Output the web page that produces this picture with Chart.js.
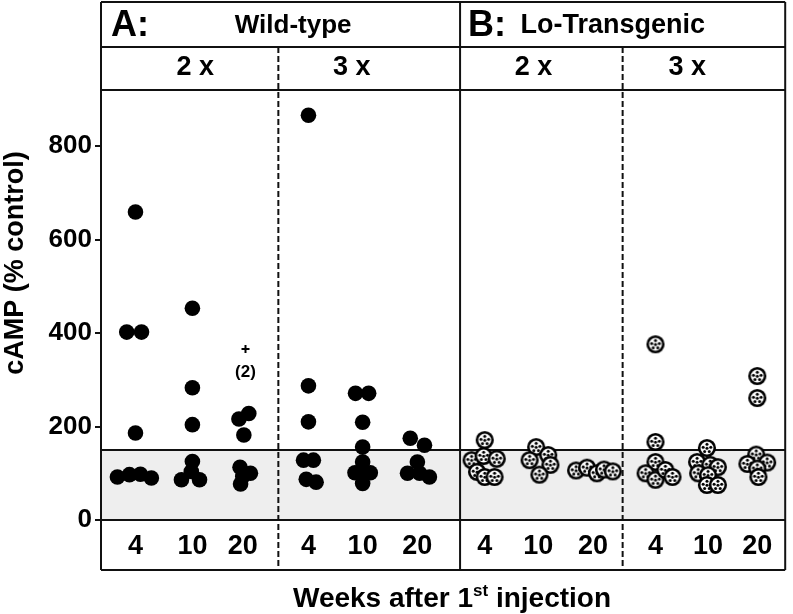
<!DOCTYPE html>
<html>
<head>
<meta charset="utf-8">
<script src="https://cdn.jsdelivr.net/npm/chart.js@4.4.1/dist/chart.umd.min.js"></script>
<style>
  html, body { margin: 0; padding: 0; background: #fff; }
</style>
</head>
<body>
<canvas id="chart" width="793" height="614"></canvas>
<script>
// 12 組的 x 位置（x 軸單位）與週數標籤
const groupX = [0.63, 1.67, 2.59, 3.79, 4.78, 5.78, 7.01, 7.99, 8.99, 10.13, 11.09, 11.99];
const weekLabels = ['4', '10', '20', '4', '10', '20', '4', '10', '20', '4', '10', '20'];
const yTicks = [0, 200, 400, 600, 800];
const bandTop = 150;

// Wild-type：每組的 cAMP 值與水平錯位
const wtValues = [
  [659, 402, 402, 186, 92, 97, 98, 90],
  [453, 283, 204, 125, 86, 86, 104],
  [228, 216, 182, 113, 100, 93, 77],
  [866, 287, 210, 128, 128, 87, 81],
  [271, 271, 209, 156, 124, 101, 101, 96, 78],
  [175, 160, 124, 100, 100, 92],
];
const wtJitter = [
  [0, -0.16, 0.11, 0, -0.33, -0.11, 0.09, 0.29],
  [0, 0, 0, 0, -0.2, 0.13, -0.02],
  [0.11, -0.07, 0.02, -0.05, 0.14, 0, -0.04],
  [0, 0, 0, -0.09, 0.09, -0.04, 0.14],
  [-0.13, 0.11, 0, 0, 0, -0.14, 0.14, 0, 0],
  [-0.13, 0.13, 0, -0.18, 0.04, 0.22],
];

// Lo-Transgenic（組 6..11）
const tgValues = [
  [171, 128, 137, 131, 103, 92, 92],
  [156, 128, 139, 118, 97],
  [106, 112, 100, 108, 104],
  [376, 167, 124, 100, 86, 107, 92],
  [154, 124, 118, 113, 100, 96, 75, 75],
  [308, 261, 140, 120, 123, 110, 92],
];
const tgJitter = [
  [0, -0.24, -0.02, 0.22, -0.14, 0, 0.18],
  [-0.04, -0.16, 0.18, 0.22, 0.02],
  [-0.31, -0.11, 0.07, 0.2, 0.36],
  [0, 0, 0, -0.18, 0, 0.18, 0.31],
  [-0.02, -0.2, 0.04, 0.18, -0.18, 0, -0.02, 0.18],
  [0, 0, -0.02, -0.18, 0.18, 0, 0.02],
];

// 超出範圍標記 "+ (2)"
const outlierGroup = 2;
const outlierJitter = 0.05;
const outlierValue = 366;
const outlierLabel = '(2)';

// 表頭文字與分隔線
const headerRow1 = [
  { text: 'A:', x: 0.53, size: 36 },
  { text: 'Wild-type', x: 3.51, size: 26 },
  { text: 'B:', x: 7.05, size: 36 },
  { text: 'Lo-Transgenic', x: 9.35, size: 27 },
];
const headerRow2 = [
  { text: '2 x', x: 1.72 },
  { text: '3 x', x: 4.58 },
  { text: '2 x', x: 7.9 },
  { text: '3 x', x: 10.71 },
];
const dashedDividers = [3.24, 9.53];
const solidDividers = [6.56];

const FONT = '"Liberation Sans", Arial, Helvetica, sans-serif';

function toPoints(values, jitter, offset) {
  const pts = [];
  values.forEach((arr, g) => {
    arr.forEach((v, i) => pts.push({ x: groupX[g + offset] + jitter[g][i], y: v }));
  });
  return pts;
}

// 白底黑點的圓形標記
function makeDotted(r) {
  const s = Math.ceil(r * 2 + 4);
  const c = document.createElement('canvas');
  c.width = s; c.height = s;
  const g = c.getContext('2d');
  const m = s / 2;
  g.beginPath();
  g.arc(m, m, r, 0, Math.PI * 2);
  g.fillStyle = '#fff';
  g.fill();
  g.lineWidth = 2.6;
  g.strokeStyle = '#000';
  g.stroke();
  g.fillStyle = '#000';
  [[0, -3.8], [-3.8, -0.8], [3.8, -0.8], [-2.3, 3.4], [2.3, 3.4], [0, 0.2]].forEach(([dx, dy]) => {
    g.beginPath();
    g.arc(m + dx, m + dy, 1.5, 0, Math.PI * 2);
    g.fill();
  });
  return c;
}

function line(ctx, x1, y1, x2, y2) {
  ctx.beginPath();
  ctx.moveTo(x1, y1);
  ctx.lineTo(x2, y2);
  ctx.stroke();
}

const framePlugin = {
  id: 'frame',
  beforeDatasetsDraw(chart) {
    const { ctx, chartArea: a, scales: { x, y } } = chart;
    const yb = y.getPixelForValue(bandTop);
    ctx.save();
    ctx.fillStyle = '#eeeeee';
    ctx.fillRect(a.left, yb, a.right - a.left, a.bottom - yb);
    ctx.strokeStyle = '#111';
    ctx.lineWidth = 2;
    line(ctx, a.left, yb, a.right, yb);
    // 虛線分隔
    ctx.setLineDash([6, 3]);
    dashedDividers.forEach(v => {
      const px = x.getPixelForValue(v);
      line(ctx, px, 47, px, a.bottom + 50);
    });
    ctx.restore();
  },
  afterDraw(chart) {
    const { ctx, chartArea: a, scales: { x, y } } = chart;
    const top = 2, row1 = 47, bottomRow = a.bottom + 50;
    ctx.save();
    ctx.strokeStyle = '#111';
    ctx.lineWidth = 2;
    line(ctx, a.left, top, a.right, top);
    line(ctx, a.left, row1, a.right, row1);
    line(ctx, a.left, a.top, a.right, a.top);
    line(ctx, a.left, a.bottom, a.right, a.bottom);
    line(ctx, a.left, bottomRow, a.right, bottomRow);
    line(ctx, a.left, top, a.left, bottomRow);
    line(ctx, a.right, top, a.right, bottomRow);
    solidDividers.forEach(v => {
      const px = x.getPixelForValue(v);
      line(ctx, px, top, px, bottomRow);
    });

    ctx.fillStyle = '#000';
    ctx.textAlign = 'center';
    ctx.textBaseline = 'middle';
    headerRow1.forEach(h => {
      ctx.font = `bold ${h.size}px ${FONT}`;
      ctx.fillText(h.text, x.getPixelForValue(h.x), 26);
    });
    ctx.font = `bold 27px ${FONT}`;
    headerRow2.forEach(h => ctx.fillText(h.text, x.getPixelForValue(h.x), 68));

    // "(2)" 標註
    ctx.font = `bold 17px ${FONT}`;
    ctx.fillText(outlierLabel,
      x.getPixelForValue(groupX[outlierGroup] + outlierJitter),
      y.getPixelForValue(outlierValue) + 23);

    // y 軸標題
    ctx.save();
    ctx.translate(16, 263);
    ctx.rotate(-Math.PI / 2);
    ctx.font = `bold 27px ${FONT}`;
    ctx.fillText('cAMP (% control)', 0, 0);
    ctx.restore();

    // x 軸標題（含上標）
    const main = 'Weeks after 1', sup = 'st', rest = ' injection';
    ctx.textAlign = 'left';
    ctx.textBaseline = 'alphabetic';
    const bigFont = `bold 28px ${FONT}`, supFont = `bold 17px ${FONT}`;
    ctx.font = bigFont;
    const w1 = ctx.measureText(main).width, w3 = ctx.measureText(rest).width;
    ctx.font = supFont;
    const w2 = ctx.measureText(sup).width;
    let cx = 452 - (w1 + w2 + w3) / 2;
    const base = 607;
    ctx.font = bigFont;
    ctx.fillText(main, cx, base);
    cx += w1;
    ctx.font = supFont;
    ctx.fillText(sup, cx, base - 11);
    cx += w2;
    ctx.font = bigFont;
    ctx.fillText(rest, cx, base);
    ctx.restore();
  },
};

new Chart(document.getElementById('chart'), {
  type: 'scatter',
  data: {
    datasets: [
      {
        data: toPoints(wtValues, wtJitter, 0),
        pointStyle: 'circle',
        pointRadius: 7.8,
        backgroundColor: '#000',
        borderWidth: 0,
      },
      {
        data: toPoints(tgValues, tgJitter, 6),
        pointStyle: makeDotted(7.8),
      },
      {
        data: [{ x: groupX[outlierGroup] + outlierJitter, y: outlierValue }],
        pointStyle: 'cross',
        pointRadius: 4,
        borderColor: '#000',
        borderWidth: 2,
      },
    ],
  },
  options: {
    responsive: false,
    animation: false,
    layout: { padding: { top: 90, right: 2, left: 0, bottom: 0 } },
    plugins: { legend: { display: false }, tooltip: { enabled: false } },
    scales: {
      x: {
        type: 'linear',
        min: 0,
        max: 12.5,
        afterFit: s => { s.height = 94; },
        afterBuildTicks: s => { s.ticks = groupX.map(v => ({ value: v })); },
        grid: { display: false, drawTicks: false },
        border: { display: false },
        ticks: {
          autoSkip: false,
          maxRotation: 0,
          padding: 10,
          color: '#000',
          font: { family: FONT, size: 27, weight: 'bold' },
          callback: (v, i) => weekLabels[i],
        },
      },
      y: {
        min: 0,
        max: 920,
        afterFit: s => { s.width = 101; },
        afterBuildTicks: s => { s.ticks = yTicks.map(v => ({ value: v })); },
        grid: { drawOnChartArea: false, drawTicks: true, tickLength: 6, color: '#111', lineWidth: 2 },
        border: { display: false },
        ticks: {
          padding: 3,
          color: '#000',
          font: { family: FONT, size: 26, weight: 'bold' },
        },
      },
    },
  },
  plugins: [framePlugin],
});
</script>
</body>
</html>
